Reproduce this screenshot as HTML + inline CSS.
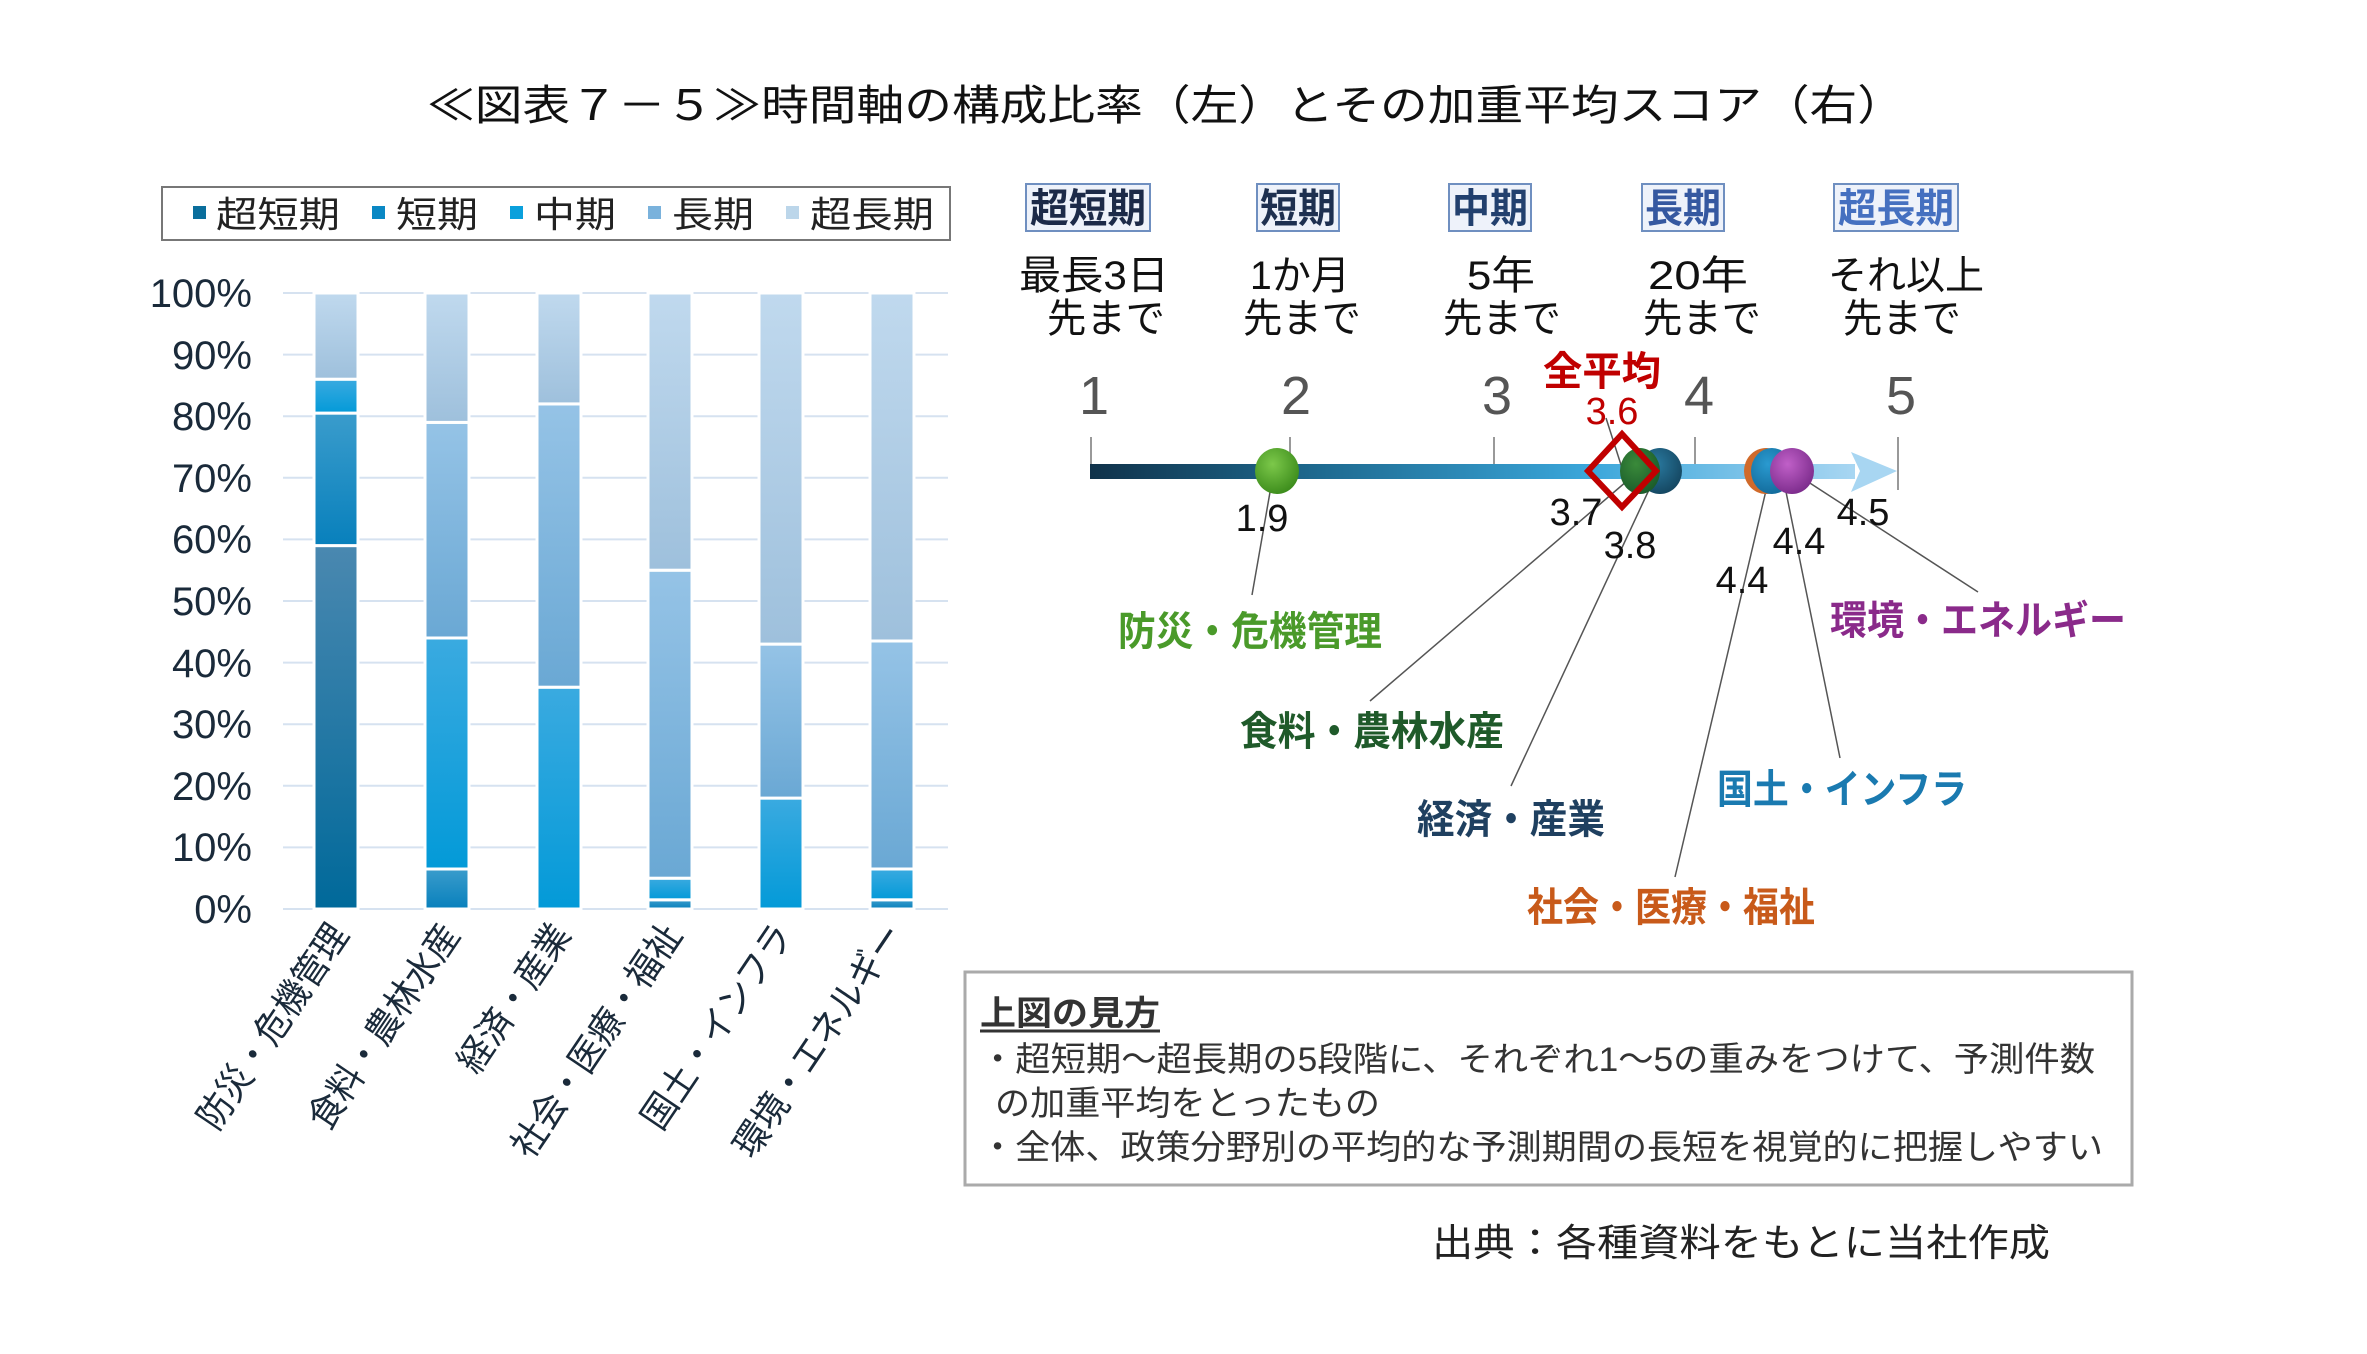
<!DOCTYPE html>
<html><head><meta charset="utf-8"><style>
html,body{margin:0;padding:0;background:#fff}
svg{display:block}
text{font-family:"Liberation Sans","Noto Sans CJK JP",sans-serif}
</style></head><body>
<svg width="2367" height="1354" viewBox="0 0 2367 1354" xmlns="http://www.w3.org/2000/svg">
<defs>
<linearGradient id="g1" x1="0" y1="0" x2="0" y2="1"><stop offset="0" stop-color="#4a88b0"/><stop offset="1" stop-color="#00699a"/></linearGradient>
<linearGradient id="g2" x1="0" y1="0" x2="0" y2="1"><stop offset="0" stop-color="#3a9ccc"/><stop offset="1" stop-color="#0880bc"/></linearGradient>
<linearGradient id="g3" x1="0" y1="0" x2="0" y2="1"><stop offset="0" stop-color="#3aaae0"/><stop offset="1" stop-color="#039ad8"/></linearGradient>
<linearGradient id="g4" x1="0" y1="0" x2="0" y2="1"><stop offset="0" stop-color="#95c3e6"/><stop offset="1" stop-color="#6aa8d4"/></linearGradient>
<linearGradient id="g5" x1="0" y1="0" x2="0" y2="1"><stop offset="0" stop-color="#c0d9ee"/><stop offset="1" stop-color="#9ec0dc"/></linearGradient>
<linearGradient id="ax" x1="0" y1="0" x2="1" y2="0"><stop offset="0" stop-color="#10324a"/><stop offset="0.3" stop-color="#1e6a90"/><stop offset="0.65" stop-color="#3aa6da"/><stop offset="1" stop-color="#a8d6f2"/></linearGradient>
<radialGradient id="dg" cx="0.4" cy="0.35" r="0.7"><stop offset="0" stop-color="#7cc84a"/><stop offset="1" stop-color="#3a8a1a"/></radialGradient>
<radialGradient id="dg2" cx="0.4" cy="0.35" r="0.7"><stop offset="0" stop-color="#3a8a3a"/><stop offset="1" stop-color="#1a5a2a"/></radialGradient>
<radialGradient id="dt" cx="0.4" cy="0.35" r="0.7"><stop offset="0" stop-color="#2a7aa0"/><stop offset="1" stop-color="#14455f"/></radialGradient>
<radialGradient id="db" cx="0.4" cy="0.35" r="0.7"><stop offset="0" stop-color="#2a9ad0"/><stop offset="1" stop-color="#126a9a"/></radialGradient>
<radialGradient id="dp" cx="0.4" cy="0.35" r="0.7"><stop offset="0" stop-color="#c060c8"/><stop offset="1" stop-color="#7a2a8a"/></radialGradient>
</defs>

<text x="1166" y="120" font-size="42" text-anchor="middle" fill="#111" textLength="1478" lengthAdjust="spacingAndGlyphs">≪図表７－５≫時間軸の構成比率（左）とその加重平均スコア（右）</text>

<!-- legend -->
<rect x="162" y="187" width="788" height="53" fill="#fff" stroke="#777" stroke-width="2"/>
<g font-size="36" fill="#222">
<rect x="193" y="206" width="13" height="13" fill="#0a6e9c"/><text x="216" y="227" textLength="124" lengthAdjust="spacingAndGlyphs">超短期</text>
<rect x="372" y="206" width="13" height="13" fill="#0a88c4"/><text x="396" y="227" textLength="82" lengthAdjust="spacingAndGlyphs">短期</text>
<rect x="510" y="206" width="13" height="13" fill="#0aa0dc"/><text x="534" y="227" textLength="82" lengthAdjust="spacingAndGlyphs">中期</text>
<rect x="648" y="206" width="13" height="13" fill="#7ab2dc"/><text x="672" y="227" textLength="82" lengthAdjust="spacingAndGlyphs">長期</text>
<rect x="786" y="206" width="13" height="13" fill="#bcd6ea"/><text x="810" y="227" textLength="124" lengthAdjust="spacingAndGlyphs">超長期</text>
</g>

<!-- grid -->
<g stroke="#d6e2f0" stroke-width="2">
<line x1="283" y1="293" x2="948" y2="293"/><line x1="283" y1="354.6" x2="948" y2="354.6"/><line x1="283" y1="416.2" x2="948" y2="416.2"/><line x1="283" y1="477.8" x2="948" y2="477.8"/><line x1="283" y1="539.4" x2="948" y2="539.4"/><line x1="283" y1="601" x2="948" y2="601"/><line x1="283" y1="662.6" x2="948" y2="662.6"/><line x1="283" y1="724.2" x2="948" y2="724.2"/><line x1="283" y1="785.8" x2="948" y2="785.8"/><line x1="283" y1="847.4" x2="948" y2="847.4"/><line x1="283" y1="909" x2="948" y2="909"/>
</g>
<g font-size="40" fill="#1a2a3a" text-anchor="end">
<text x="252" y="307">100%</text><text x="252" y="369">90%</text><text x="252" y="430">80%</text><text x="252" y="492">70%</text><text x="252" y="553">60%</text><text x="252" y="615">50%</text><text x="252" y="677">40%</text><text x="252" y="738">30%</text><text x="252" y="800">20%</text><text x="252" y="861">10%</text><text x="252" y="923">0%</text>
</g>

<g stroke="#fff" stroke-width="3">
<rect x="314" y="545.6" width="44" height="363.4" fill="url(#g1)"/>
<rect x="314" y="413.1" width="44" height="132.5" fill="url(#g2)"/>
<rect x="314" y="379.2" width="44" height="33.9" fill="url(#g3)"/>
<rect x="314" y="293" width="44" height="86.2" fill="url(#g5)"/>
<rect x="425" y="869" width="44" height="40" fill="url(#g2)"/>
<rect x="425" y="638" width="44" height="231" fill="url(#g3)"/>
<rect x="425" y="422.4" width="44" height="215.6" fill="url(#g4)"/>
<rect x="425" y="293" width="44" height="129.4" fill="url(#g5)"/>
<rect x="537" y="687.2" width="44" height="221.8" fill="url(#g3)"/>
<rect x="537" y="403.9" width="44" height="283.3" fill="url(#g4)"/>
<rect x="537" y="293" width="44" height="110.9" fill="url(#g5)"/>
<rect x="648" y="899.8" width="44" height="9.2" fill="url(#g2)"/>
<rect x="648" y="878.2" width="44" height="21.6" fill="url(#g3)"/>
<rect x="648" y="570.2" width="44" height="308" fill="url(#g4)"/>
<rect x="648" y="293" width="44" height="277.2" fill="url(#g5)"/>
<rect x="759" y="798.1" width="44" height="110.9" fill="url(#g3)"/>
<rect x="759" y="644.1" width="44" height="154" fill="url(#g4)"/>
<rect x="759" y="293" width="44" height="351.1" fill="url(#g5)"/>
<rect x="870" y="899.8" width="44" height="9.2" fill="url(#g2)"/>
<rect x="870" y="869" width="44" height="30.8" fill="url(#g3)"/>
<rect x="870" y="641" width="44" height="228" fill="url(#g4)"/>
<rect x="870" y="293" width="44" height="348" fill="url(#g5)"/>
</g>

<g font-size="37" fill="#1a2a3a" text-anchor="end">
<text transform="translate(350,935) rotate(-56)" textLength="238" lengthAdjust="spacingAndGlyphs">防災・危機管理</text>
<text transform="translate(461,935) rotate(-56)" textLength="238" lengthAdjust="spacingAndGlyphs">食料・農林水産</text>
<text transform="translate(572,935) rotate(-56)" textLength="170" lengthAdjust="spacingAndGlyphs">経済・産業</text>
<text transform="translate(683,935) rotate(-56)" textLength="272" lengthAdjust="spacingAndGlyphs">社会・医療・福祉</text>
<text transform="translate(794,935) rotate(-56)" textLength="238" lengthAdjust="spacingAndGlyphs">国土・インフラ</text>
<text transform="translate(905,935) rotate(-56)" textLength="272" lengthAdjust="spacingAndGlyphs">環境・エネルギー</text>
</g>

<g transform="translate(-6,0)">
<g font-size="40" font-weight="bold" text-anchor="middle">
<rect x="1032" y="184" width="124" height="47" fill="#eef2fa" stroke="#6f8fc0" stroke-width="2"/>
<text x="1094" y="222" fill="#1c2a48" textLength="116" lengthAdjust="spacingAndGlyphs">超短期</text>
<rect x="1263" y="184" width="82" height="47" fill="#eef2fa" stroke="#6f8fc0" stroke-width="2"/>
<text x="1304" y="222" fill="#1e3050" textLength="76" lengthAdjust="spacingAndGlyphs">短期</text>
<rect x="1455" y="184" width="82" height="47" fill="#eef2fa" stroke="#6f8fc0" stroke-width="2"/>
<text x="1496" y="222" fill="#22406e" textLength="76" lengthAdjust="spacingAndGlyphs">中期</text>
<rect x="1648" y="184" width="82" height="47" fill="#eef2fa" stroke="#6f8fc0" stroke-width="2"/>
<text x="1689" y="222" fill="#3558a0" textLength="76" lengthAdjust="spacingAndGlyphs">長期</text>
<rect x="1840" y="184" width="124" height="47" fill="#eef2fa" stroke="#6f8fc0" stroke-width="2"/>
<text x="1902" y="222" fill="#4570c0" textLength="116" lengthAdjust="spacingAndGlyphs">超長期</text>
</g>
<g font-size="40" fill="#111" text-anchor="middle">
<text x="1100" y="289" textLength="150" lengthAdjust="spacingAndGlyphs">最長3日</text>
<text x="1112" y="332" textLength="118" lengthAdjust="spacingAndGlyphs">先まで</text>
<text x="1306" y="289" textLength="100" lengthAdjust="spacingAndGlyphs">1か月</text>
<text x="1308" y="332" textLength="118" lengthAdjust="spacingAndGlyphs">先まで</text>
<text x="1507" y="289" textLength="68" lengthAdjust="spacingAndGlyphs">5年</text>
<text x="1508" y="332" textLength="118" lengthAdjust="spacingAndGlyphs">先まで</text>
<text x="1704" y="289" textLength="100" lengthAdjust="spacingAndGlyphs">20年</text>
<text x="1708" y="332" textLength="118" lengthAdjust="spacingAndGlyphs">先まで</text>
<text x="1912" y="289" textLength="156" lengthAdjust="spacingAndGlyphs">それ以上</text>
<text x="1908" y="332" textLength="118" lengthAdjust="spacingAndGlyphs">先まで</text>
</g>
<g font-size="54" fill="#555" text-anchor="middle">
<text x="1100" y="414">1</text><text x="1302" y="414">2</text><text x="1503" y="414">3</text><text x="1705" y="414">4</text><text x="1907" y="414">5</text>
</g>
<g stroke="#999" stroke-width="2">
<line x1="1097" y1="437" x2="1097" y2="470"/><line x1="1296" y1="437" x2="1296" y2="470"/><line x1="1500" y1="437" x2="1500" y2="470"/><line x1="1701" y1="437" x2="1701" y2="470"/><line x1="1904" y1="437" x2="1904" y2="490"/>
</g>
<rect x="1096" y="464" width="765" height="15" fill="url(#ax)"/>
<polygon points="1857,452 1903,471 1857,492 1866,471" fill="#a8d6f2"/>

<g stroke="#555" stroke-width="1.5" fill="none">
<line x1="1279" y1="475" x2="1258" y2="595"/>
<line x1="1640" y1="475" x2="1376" y2="701"/>
<line x1="1660" y1="479" x2="1517" y2="786"/>
<line x1="1774" y1="482" x2="1681" y2="877"/>
<line x1="1790" y1="482" x2="1846" y2="758"/>
<line x1="1805" y1="476" x2="1984" y2="592"/>
<line x1="1612" y1="418" x2="1628" y2="468"/>
</g>

<ellipse cx="1283" cy="471" rx="22" ry="23" fill="url(#dg)"/>
<ellipse cx="1666" cy="471" rx="22" ry="23" fill="url(#dt)"/>
<ellipse cx="1646" cy="471" rx="20" ry="23" fill="url(#dg2)"/>
<ellipse cx="1772" cy="471" rx="22" ry="23" fill="#d06a2a"/>
<ellipse cx="1778" cy="471" rx="21" ry="23" fill="url(#db)"/>
<ellipse cx="1798" cy="471" rx="22" ry="23" fill="url(#dp)"/>
<polygon points="1628,434 1662,471 1628,507 1594,471" fill="none" stroke="#c00000" stroke-width="6"/>

<text x="1608" y="385" font-size="40" font-weight="bold" fill="#c00000" text-anchor="middle" textLength="118" lengthAdjust="spacingAndGlyphs">全平均</text>
<text x="1618" y="424" font-size="38" fill="#c00000" text-anchor="middle">3.6</text>

<g font-size="38" fill="#111" text-anchor="middle">
<text x="1268" y="531">1.9</text>
<text x="1582" y="525">3.7</text>
<text x="1636" y="558">3.8</text>
<text x="1748" y="593">4.4</text>
<text x="1805" y="554">4.4</text>
<text x="1869" y="525">4.5</text>
</g>

<g font-size="40" font-weight="bold" text-anchor="middle">
<text x="1256" y="645" fill="#4a9a2a" textLength="264" lengthAdjust="spacingAndGlyphs">防災・危機管理</text>
<text x="1378" y="745" fill="#1f5a2a" textLength="264" lengthAdjust="spacingAndGlyphs">食料・農林水産</text>
<text x="1517" y="833" fill="#1f4060" textLength="188" lengthAdjust="spacingAndGlyphs">経済・産業</text>
<text x="1677" y="921" fill="#c85a1a" textLength="288" lengthAdjust="spacingAndGlyphs">社会・医療・福祉</text>
<text x="1848" y="803" fill="#1a7ab0" textLength="250" lengthAdjust="spacingAndGlyphs">国土・インフラ</text>
<text x="1984" y="634" fill="#8a2a8a" textLength="296" lengthAdjust="spacingAndGlyphs">環境・エネルギー</text>
</g>

<rect x="971" y="972" width="1167" height="213" fill="#fff" stroke="#aaa" stroke-width="3"/>
<text x="986" y="1025" font-size="34" font-weight="bold" fill="#333" textLength="180" lengthAdjust="spacingAndGlyphs">上図の見方</text>
<line x1="986" y1="1031" x2="1166" y2="1031" stroke="#333" stroke-width="3"/>
<g font-size="34" fill="#333">
<text x="986" y="1071" textLength="1115" lengthAdjust="spacingAndGlyphs">・超短期～超長期の5段階に、それぞれ1～5の重みをつけて、予測件数</text>
<text x="1001" y="1115" textLength="385" lengthAdjust="spacingAndGlyphs">の加重平均をとったもの</text>
<text x="986" y="1159" textLength="1123" lengthAdjust="spacingAndGlyphs">・全体、政策分野別の平均的な予測期間の長短を視覚的に把握しやすい</text>
</g>
<text x="1438" y="1256" font-size="38" fill="#222" font-family="'Liberation Serif','Noto Serif CJK SC',serif" textLength="618" lengthAdjust="spacingAndGlyphs">出典：各種資料をもとに当社作成</text>
</g>
</svg>
</body></html>
